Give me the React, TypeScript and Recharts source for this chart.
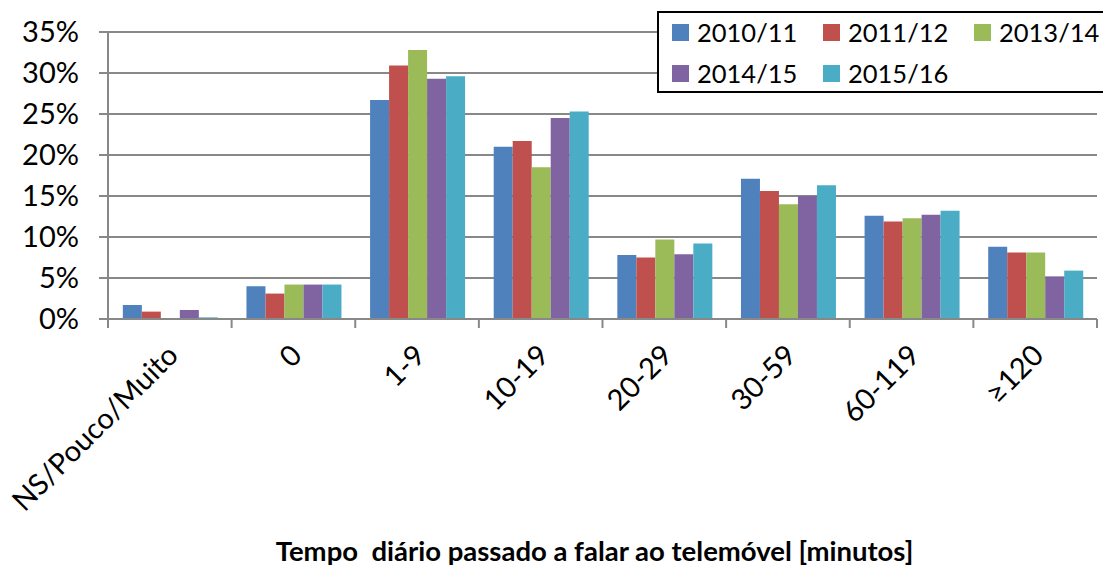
import React from 'react';
import { BarChart, Bar, XAxis, YAxis, CartesianGrid, Label } from 'recharts';

const categories = ['NS/Pouco/Muito', '0', '1-9', '10-19', '20-29', '30-59', '60-119', '≥120'];
const s2010 = [1.7, 4.0, 26.7, 21.0, 7.8, 17.1, 12.6, 8.8];
const s2011 = [0.9, 3.1, 30.9, 21.7, 7.5, 15.6, 11.9, 8.1];
const s2013 = [0, 4.2, 32.8, 18.5, 9.7, 14.0, 12.3, 8.1];
const s2014 = [1.1, 4.2, 29.3, 24.5, 7.9, 15.0, 12.7, 5.2];
const s2015 = [0.2, 4.2, 29.6, 25.3, 9.2, 16.3, 13.2, 5.9];
const yTicks = [0, 5, 10, 15, 20, 25, 30, 35];

const series = [
  { key: 's2010', name: '2010/11', color: '#4F81BD', values: s2010 },
  { key: 's2011', name: '2011/12', color: '#C0504D', values: s2011 },
  { key: 's2013', name: '2013/14', color: '#9BBB59', values: s2013 },
  { key: 's2014', name: '2014/15', color: '#8064A2', values: s2014 },
  { key: 's2015', name: '2015/16', color: '#4BACC6', values: s2015 },
];

const data = categories.map((c, i) => {
  const row: any = { cat: c };
  series.forEach((s) => { row[s.key] = s.values[i]; });
  return row;
});

const W = 1103;
const H = 567;
const LEFT = 108;
const RIGHT_MARGIN = 6;
const TOP = 32;
const AXIS_H = 248;
const FONT = 'Lato, "Open Sans", sans-serif';
const GRID = '#888888';
const half = (W - LEFT - RIGHT_MARGIN) / categories.length / 2;

const XTick = (props: any) => {
  const { x, payload, index } = props;
  const y0 = TOP + (H - TOP - AXIS_H);
  const tx = x + 3;
  const ty = y0 + 31;
  return (
    <g>
      <line x1={x - half} y1={y0} x2={x - half} y2={y0 + 9} stroke={GRID} strokeWidth={2} />
      {index === categories.length - 1 && (
        <line x1={x + half} y1={y0} x2={x + half} y2={y0 + 9} stroke={GRID} strokeWidth={2} />
      )}
      <text
        x={tx}
        y={ty}
        transform={`rotate(-45 ${tx} ${ty})`}
        textAnchor="end"
        fontSize={29}
        fontFamily={FONT}
        fill="#000"
        dy="0.35em"
      >
        {payload.value}
      </text>
    </g>
  );
};

export default function App() {
  return (
    <div style={{ position: 'absolute', left: 0, top: 0, width: W, height: H, background: '#fff', overflow: 'hidden' }}>
      <BarChart
        width={W}
        height={H}
        data={data}
        margin={{ top: TOP, right: RIGHT_MARGIN, left: 0, bottom: 0 }}
        barCategoryGap="12%"
        barGap={0}
      >
        <CartesianGrid vertical={false} stroke={GRID} strokeWidth={2} />
        <XAxis
          dataKey="cat"
          height={AXIS_H}
          interval={0}
          tickLine={false}
          axisLine={{ stroke: GRID, strokeWidth: 2 }}
          tick={<XTick />}
        >
          <Label
            value={'Tempo\u00a0 diário passado a falar ao telemóvel [minutos]'}
            position="insideBottom"
            offset={6}
            dx={-8}
            style={{ fontSize: 27.5, fontWeight: 700, fontFamily: FONT, fill: '#000' }}
          />
        </XAxis>
        <YAxis
          width={LEFT}
          domain={[0, 35]}
          ticks={yTicks}
          interval={0}
          tickFormatter={(v: number) => `${v}%`}
          tickSize={9}
          tickMargin={20}
          tickLine={{ stroke: GRID, strokeWidth: 2 }}
          axisLine={{ stroke: GRID, strokeWidth: 2 }}
          tick={{ fontSize: 29, fontFamily: FONT, fill: '#000' }}
        />
        {series.map((s) => (
          <Bar key={s.key} dataKey={s.key} name={s.name} fill={s.color} isAnimationActive={false} />
        ))}
      </BarChart>
      <div
        style={{
          position: 'absolute',
          left: 657,
          top: 11,
          width: 460,
          height: 78,
          border: '2px solid #000',
          background: '#fff',
          fontFamily: FONT,
          fontSize: 25.5,
          color: '#000',
        }}
      >
        {series.map((s, i) => {
          const col = i % 3;
          const row = Math.floor(i / 3);
          return (
            <div
              key={s.key}
              style={{
                position: 'absolute',
                left: 13 + col * 151,
                top: 4 + row * 41,
                height: 30,
                display: 'flex',
                alignItems: 'center',
                whiteSpace: 'nowrap',
              }}
            >
              <span style={{ display: 'inline-block', width: 17, height: 17, background: s.color, marginRight: 8 }} />
              <span style={{ lineHeight: '30px' }}>{s.name}</span>
            </div>
          );
        })}
      </div>
    </div>
  );
}
